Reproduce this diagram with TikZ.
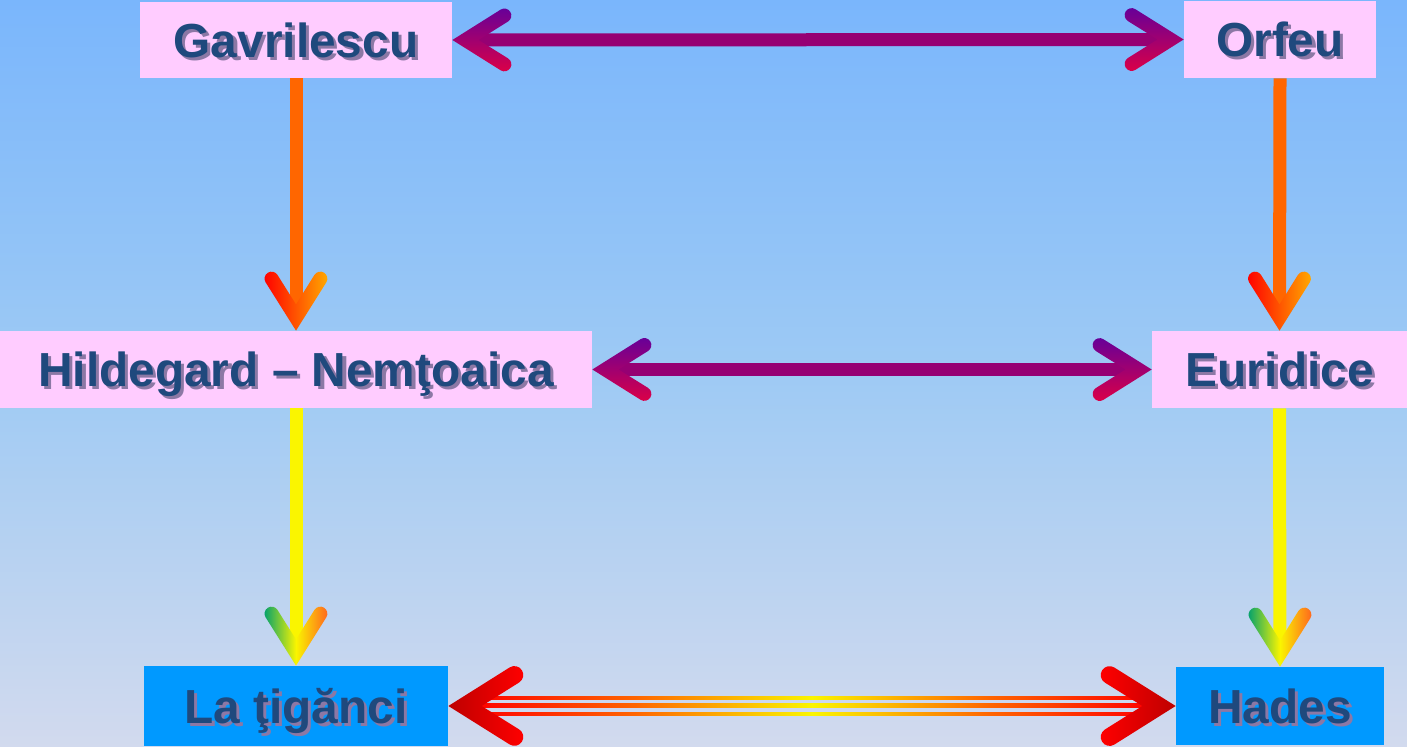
\documentclass[tikz,border=0pt]{standalone}
\usepackage{fontspec}
\setmainfont{Liberation Sans}
\usetikzlibrary{calc}
\definecolor{bgtop}{RGB}{122,182,252}
\definecolor{bgmid}{RGB}{158,202,244}
\definecolor{bgbot}{RGB}{210,218,238}
\definecolor{boxpink}{RGB}{255,204,255}
\definecolor{boxblue}{RGB}{0,153,255}
\definecolor{txtblue}{RGB}{31,73,125}
\definecolor{txtshade}{RGB}{140,120,165}
\definecolor{shaftorange}{RGB}{255,102,0}
\definecolor{shaftyellow}{RGB}{250,245,0}
\definecolor{shaftpurple}{RGB}{150,0,115}
\definecolor{headpurple}{RGB}{102,0,153}
\definecolor{headcrimson}{RGB}{220,0,70}
\definecolor{headred}{RGB}{255,0,0}
\definecolor{headdark}{RGB}{190,0,0}
\definecolor{headorange}{RGB}{255,170,0}
\definecolor{headgreen}{RGB}{0,160,110}
\definecolor{headamber}{RGB}{255,100,30}

\pgfdeclarehorizontalshading{redyellowred}{100bp}{color(0bp)=(headred); color(25bp)=(headred); color(37bp)=(shaftorange); color(50bp)=(shaftyellow); color(63bp)=(shaftorange); color(75bp)=(headred); color(100bp)=(headred)}

\newcommand\shtxt[1]{\makebox[0pt][l]{\hspace{1.8pt}\raisebox{-1.8pt}{\textcolor{txtshade}{#1}}}#1}

\tikzset{
  box/.style={fill=boxpink, text=txtblue, font=\fontsize{27.2}{30}\selectfont\bfseries,
    inner sep=0pt, text height=19.5pt, text depth=0pt},
  bluebox/.style={box, fill=boxblue},
  shaft/.style={line width=2.6mm, shorten <=3.5mm, shorten >=3.5mm},
  vhead/.pic={
    \shade[#1] (0,0) -- (30.3,48.3) arc[start angle=-32, end angle=148, radius=7]
      -- (0,26.2) -- (-18.5,55.7) arc[start angle=32, end angle=212, radius=7] -- cycle;
  }
}

\begin{document}
\begin{tikzpicture}[x=0.2mm, y=0.2mm]
  % Background
  \shade[top color=bgtop, bottom color=bgbot, middle color=bgmid] (0,0) rectangle (1407,747);

  % Boxes
  \node[box, minimum width=62.4mm, minimum height=15.2mm] (gav) at (296,707) {\shtxt{Gavrilescu}};
  \node[box, minimum width=38.4mm, minimum height=15.4mm] (orf) at (1280,707.5) {\shtxt{Orfeu}};
  \node[box, minimum width=118.4mm, minimum height=15.4mm] (hil) at (296,377.5) {\shtxt{Hildegard – Nemţoaica}};
  \node[box, minimum width=51mm, minimum height=15.4mm] (eur) at (1279.5,377.5) {\shtxt{Euridice}};
  \node[bluebox, minimum width=60.8mm, minimum height=16mm] (lat) at (296,41) {\shtxt{La ţigănci}};
  \node[bluebox, minimum width=41.6mm, minimum height=15.6mm] (had) at (1280,41) {\shtxt{Hades}};

  % Vertical arrows
  \draw[shaft, shaftorange, shorten <=0pt] (gav.south) -- (hil.north);
  \pic at (hil.north) {vhead={left color=headred, right color=headorange}};
  \draw[shaft, shaftorange, shorten <=0pt] (orf.south) -- (eur.north);
  \pic at (eur.north) {vhead={left color=headred, right color=headorange}};
  \draw[shaft, shaftyellow, shorten <=0pt] (hil.south) -- (lat.north);
  \pic at (lat.north) {vhead={left color=headgreen, right color=headamber, middle color=shaftyellow}};
  \draw[shaft, shaftyellow, shorten <=0pt] (eur.south) -- (had.north);
  \pic at (had.north) {vhead={left color=headgreen, right color=headamber, middle color=shaftyellow}};

  % Horizontal double arrows
  \draw[shaft, shaftpurple] (gav.east) -- (orf.west);
  \pic[rotate=-90] at (gav.east) {vhead={top color=headpurple, bottom color=headcrimson}};
  \pic[rotate=90] at (orf.west) {vhead={top color=headpurple, bottom color=headcrimson}};
  \draw[shaft, shaftpurple] (hil.east) -- (eur.west);
  \pic[rotate=-90] at (hil.east) {vhead={top color=headpurple, bottom color=headcrimson}};
  \pic[rotate=90] at (eur.west) {vhead={top color=headpurple, bottom color=headcrimson}};

  % Bottom triple line
  \foreach \dy/\w in {8/1.3, 0/2, -8/1.3}
    \shade[shading=redyellowred]
      ($(lat.east)+(25,\dy-\w)$) rectangle ($(had.west)+(-25,\dy+\w)$);
  \pic[rotate=-90, scale=1.27] at (lat.east) {vhead={left color=headdark, right color=headred}};
  \pic[rotate=90, scale=1.27] at (had.west) {vhead={left color=headred, right color=headdark}};
\end{tikzpicture}
\end{document}
